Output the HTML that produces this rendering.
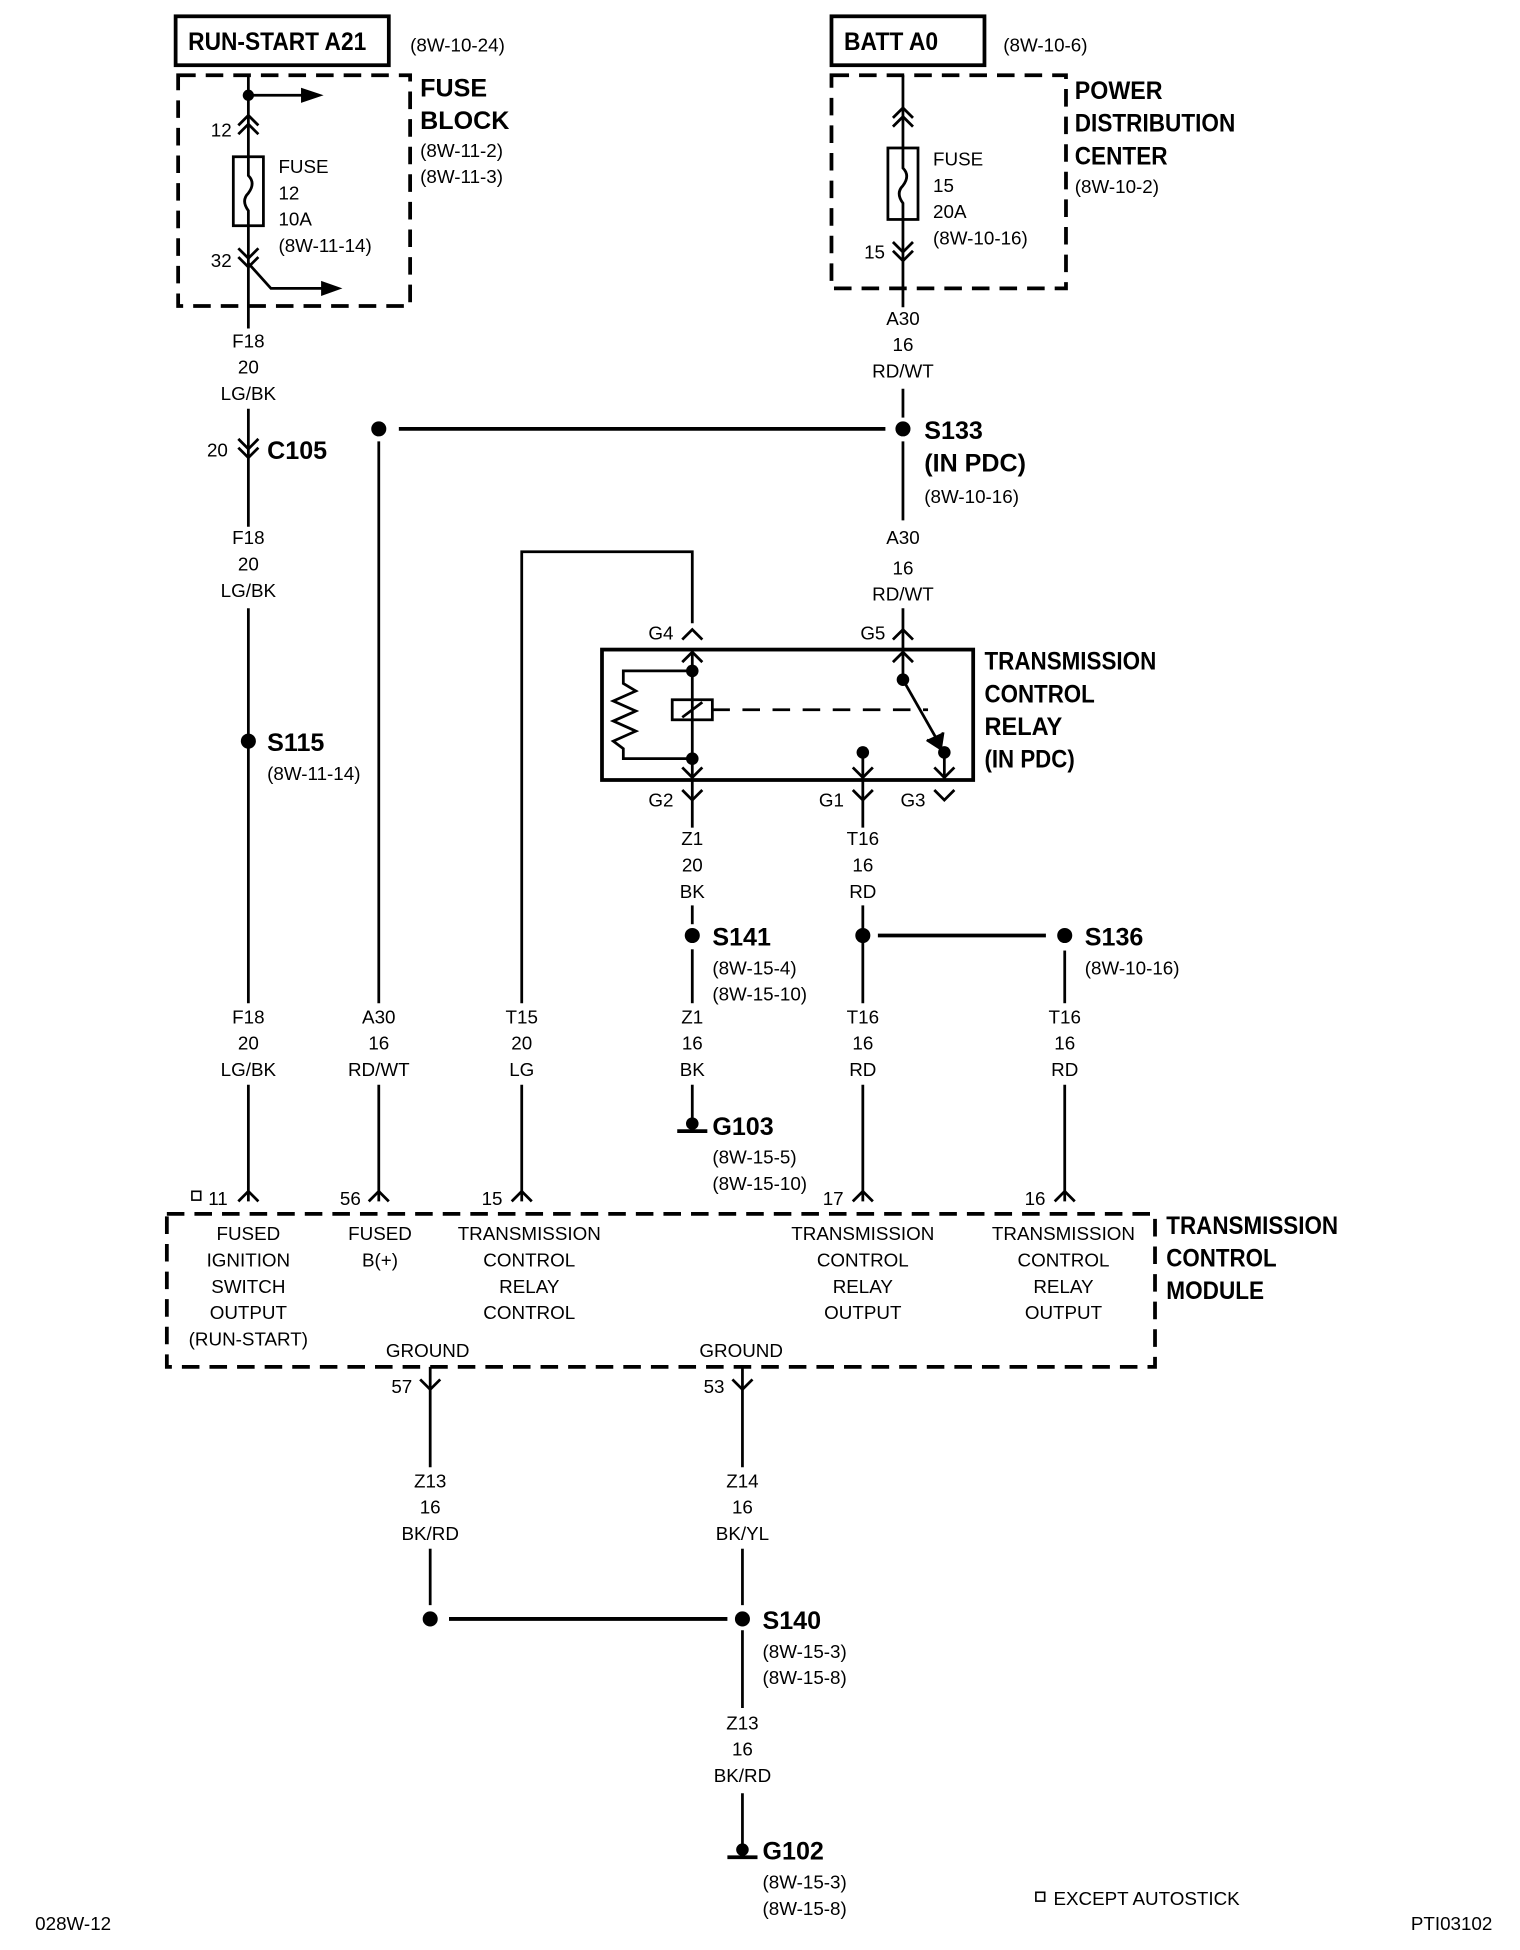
<!DOCTYPE html>
<html><head><meta charset="utf-8"><style>
html,body{margin:0;padding:0;background:#fff;}
svg{display:block;}
text{font-family:"Liberation Sans",sans-serif;fill:#000;}
.s{font-size:15px;}
.b{font-size:20px;font-weight:bold;}
.c{text-anchor:middle;}
</style></head><body>
<svg width="1520" height="1950" viewBox="0 0 1212 1555" xmlns="http://www.w3.org/2000/svg">
<g stroke="#000" stroke-width="2.2" fill="none">
<!-- top boxes -->
<rect x="140" y="13" width="170" height="39" stroke-width="3"/>
<rect x="663" y="13" width="122" height="39" stroke-width="3"/>
<rect x="142" y="60" width="185" height="184" stroke-width="3" stroke-dasharray="14,8"/>
<rect x="663" y="60" width="187" height="170" stroke-width="3" stroke-dasharray="14,8"/>
<rect x="133" y="968" width="788" height="122" stroke-width="3" stroke-dasharray="14,8"/>
<rect x="480" y="518" width="296" height="104" stroke-width="3"/>
<!-- fuse block left -->
<line x1="198" y1="60" x2="198" y2="125"/>
<line x1="198" y1="76" x2="245" y2="76"/>
<rect x="186" y="125" width="24" height="55"/>
<path d="M198 125 V140 q6 6 0 14 q-6 6 0 14 V180"/>
<line x1="198" y1="180" x2="198" y2="262"/>
<polyline points="190,100 198,92 206,100"/><polyline points="190,107 198,99 206,107"/>
<polyline points="190,198 198,206 206,198"/><polyline points="190,205 198,213 206,205"/>
<polyline points="198,210 216,230 258,230"/>
<!-- PDC -->
<line x1="720" y1="60" x2="720" y2="118"/>
<rect x="708" y="118" width="24" height="57"/>
<path d="M720 118 V134 q6 6 0 14 q-6 6 0 14 V175"/>
<line x1="720" y1="175" x2="720" y2="245"/>
<polyline points="712,94 720,86 728,94"/><polyline points="712,101 720,93 728,101"/>
<polyline points="712,193 720,201 728,193"/><polyline points="712,200 720,208 728,200"/>
<!-- x=198 wire -->
<line x1="198" y1="326" x2="198" y2="420"/>
<polyline points="190,350 198,358 206,350"/><polyline points="190,357 198,365 206,357"/>
<line x1="198" y1="485" x2="198" y2="800"/>
<line x1="198" y1="865" x2="198" y2="958"/>
<polyline points="190,958 198,950 206,958"/>
<!-- A30 x=302 -->
<line x1="318" y1="342" x2="706" y2="342" stroke-width="3"/>
<line x1="302" y1="352" x2="302" y2="800"/>
<line x1="302" y1="865" x2="302" y2="958"/>
<polyline points="294,958 302,950 310,958"/>
<!-- T15 -->
<polyline points="416,800 416,440 552,440 552,497"/>
<line x1="416" y1="865" x2="416" y2="958"/>
<polyline points="408,958 416,950 424,958"/>
<!-- x=720 -->
<line x1="720" y1="310" x2="720" y2="333"/>
<line x1="720" y1="352" x2="720" y2="415"/>
<line x1="720" y1="485" x2="720" y2="542"/>
<polyline points="712,510 720,502 728,510"/>
<polyline points="712,528 720,520 728,528"/>
<polyline points="544,510 552,502 560,510"/>
<polyline points="544,528 552,520 560,528"/>
<!-- relay internals -->
<line x1="552" y1="520" x2="552" y2="636"/>
<rect x="536" y="558" width="32" height="16"/>
<line x1="544" y1="572" x2="560" y2="560"/>
<polyline points="552,535 497,535 497,545 507,551 489,559 507,567 489,575 507,583 489,591 497,597 497,605 552,605"/>
<line x1="568" y1="566" x2="740" y2="566" stroke-dasharray="14,10"/>
<line x1="720" y1="542" x2="749" y2="593"/>
<polyline points="739,590 750,597 752,584" fill="#000"/>
<line x1="753" y1="600" x2="753" y2="622"/>
<line x1="688" y1="600" x2="688" y2="660"/>
<polyline points="544,612 552,620 560,612"/><polyline points="680,612 688,620 696,612"/><polyline points="745,612 753,620 761,612"/>
<polyline points="544,630 552,638 560,630"/><polyline points="680,630 688,638 696,630"/><polyline points="745,630 753,638 761,630"/>
<line x1="552" y1="636" x2="552" y2="660"/>
<line x1="552" y1="722" x2="552" y2="737"/>
<line x1="552" y1="757" x2="552" y2="800"/>
<line x1="552" y1="865" x2="552" y2="900"/>
<line x1="540" y1="902" x2="564" y2="902" stroke-width="3"/>
<line x1="688" y1="722" x2="688" y2="800"/>
<line x1="688" y1="865" x2="688" y2="958"/>
<polyline points="680,958 688,950 696,958"/>
<line x1="700" y1="746" x2="834" y2="746" stroke-width="3"/>
<line x1="849" y1="758" x2="849" y2="800"/>
<line x1="849" y1="865" x2="849" y2="958"/>
<polyline points="841,958 849,950 857,958"/>
<!-- ground -->
<polyline points="335,1100 343,1108 351,1100"/>
<line x1="343" y1="1090" x2="343" y2="1170"/>
<line x1="343" y1="1235" x2="343" y2="1280"/>
<polyline points="584,1100 592,1108 600,1100"/>
<line x1="592" y1="1090" x2="592" y2="1170"/>
<line x1="592" y1="1235" x2="592" y2="1280"/>
<line x1="358" y1="1291" x2="580" y2="1291" stroke-width="3"/>
<line x1="592" y1="1300" x2="592" y2="1362"/>
<line x1="592" y1="1430" x2="592" y2="1478"/>
<line x1="580" y1="1481" x2="604" y2="1481" stroke-width="3"/>
<rect x="153" y="950" width="7" height="7" stroke-width="1.3"/>
<rect x="826" y="1509" width="7" height="7" stroke-width="1.3"/>
</g>
<g fill="#000">
<polygon points="240,70 258,76 240,82"/>
<polygon points="256,224 273,230 256,236"/>
<circle cx="198" cy="76" r="4.5"/>
<circle cx="302" cy="342" r="6"/><circle cx="720" cy="342" r="6"/>
<circle cx="198" cy="591" r="6"/>
<circle cx="552" cy="535" r="5"/><circle cx="552" cy="605" r="5"/>
<circle cx="720" cy="542" r="5"/><circle cx="688" cy="600" r="5"/><circle cx="753" cy="600" r="5"/>
<circle cx="552" cy="746" r="6"/><circle cx="688" cy="746" r="6"/><circle cx="849" cy="746" r="6"/>
<circle cx="552" cy="896" r="5"/>
<circle cx="343" cy="1291" r="6"/><circle cx="592" cy="1291" r="6"/>
<circle cx="592" cy="1475" r="5"/>
</g>
<text class="b" x="150" y="40" textLength="142" lengthAdjust="spacingAndGlyphs">RUN-START A21</text>
<text class="s" x="327" y="41">(8W-10-24)</text>
<text class="b" x="673" y="40" textLength="75" lengthAdjust="spacingAndGlyphs">BATT A0</text>
<text class="s" x="800" y="41">(8W-10-6)</text>
<text class="b" x="335" y="77">FUSE</text><text class="b" x="335" y="103">BLOCK</text>
<text class="s" x="335" y="125">(8W-11-2)</text><text class="s" x="335" y="146">(8W-11-3)</text>
<text class="s" x="168" y="109">12</text><text class="s" x="168" y="213">32</text>
<text class="s" x="222" y="138">FUSE</text><text class="s" x="222" y="159">12</text><text class="s" x="222" y="180">10A</text><text class="s" x="222" y="201">(8W-11-14)</text>
<text class="b" x="857" y="79" textLength="70" lengthAdjust="spacingAndGlyphs">POWER</text>
<text class="b" x="857" y="105" textLength="128" lengthAdjust="spacingAndGlyphs">DISTRIBUTION</text>
<text class="b" x="857" y="131" textLength="74" lengthAdjust="spacingAndGlyphs">CENTER</text>
<text class="s" x="857" y="154">(8W-10-2)</text>
<text class="s" x="744" y="132">FUSE</text><text class="s" x="744" y="153">15</text><text class="s" x="744" y="174">20A</text><text class="s" x="744" y="195">(8W-10-16)</text>
<text class="s" x="689" y="206">15</text>
<g class="s c">
<text class="s c" x="198" y="277">F18</text><text class="s c" x="198" y="298">20</text><text class="s c" x="198" y="319">LG/BK</text>
<text class="s c" x="198" y="434">F18</text><text class="s c" x="198" y="455">20</text><text class="s c" x="198" y="476">LG/BK</text>
<text class="s c" x="198" y="816">F18</text><text class="s c" x="198" y="837">20</text><text class="s c" x="198" y="858">LG/BK</text>
<text class="s c" x="302" y="816">A30</text><text class="s c" x="302" y="837">16</text><text class="s c" x="302" y="858">RD/WT</text>
<text class="s c" x="416" y="816">T15</text><text class="s c" x="416" y="837">20</text><text class="s c" x="416" y="858">LG</text>
<text class="s c" x="552" y="816">Z1</text><text class="s c" x="552" y="837">16</text><text class="s c" x="552" y="858">BK</text>
<text class="s c" x="688" y="816">T16</text><text class="s c" x="688" y="837">16</text><text class="s c" x="688" y="858">RD</text>
<text class="s c" x="849" y="816">T16</text><text class="s c" x="849" y="837">16</text><text class="s c" x="849" y="858">RD</text>
<text class="s c" x="720" y="259">A30</text><text class="s c" x="720" y="280">16</text><text class="s c" x="720" y="301">RD/WT</text>
<text class="s c" x="720" y="434">A30</text><text class="s c" x="720" y="458">16</text><text class="s c" x="720" y="479">RD/WT</text>
<text class="s c" x="552" y="674">Z1</text><text class="s c" x="552" y="695">20</text><text class="s c" x="552" y="716">BK</text>
<text class="s c" x="688" y="674">T16</text><text class="s c" x="688" y="695">16</text><text class="s c" x="688" y="716">RD</text>
<text class="s c" x="343" y="1186">Z13</text><text class="s c" x="343" y="1207">16</text><text class="s c" x="343" y="1228">BK/RD</text>
<text class="s c" x="592" y="1186">Z14</text><text class="s c" x="592" y="1207">16</text><text class="s c" x="592" y="1228">BK/YL</text>
<text class="s c" x="592" y="1379">Z13</text><text class="s c" x="592" y="1400">16</text><text class="s c" x="592" y="1421">BK/RD</text>
</g>
<text class="s" x="165" y="364">20</text>
<text class="b" x="213" y="366">C105</text>
<text class="b" x="737" y="350">S133</text><text class="b" x="737" y="376">(IN PDC)</text><text class="s" x="737" y="401">(8W-10-16)</text>
<text class="b" x="213" y="599">S115</text><text class="s" x="213" y="622">(8W-11-14)</text>
<text class="s" x="517" y="510">G4</text><text class="s" x="686" y="510">G5</text>
<text class="s" x="517" y="643">G2</text><text class="s" x="653" y="643">G1</text><text class="s" x="718" y="643">G3</text>
<text class="b" x="785" y="534" textLength="137" lengthAdjust="spacingAndGlyphs">TRANSMISSION</text>
<text class="b" x="785" y="560" textLength="88" lengthAdjust="spacingAndGlyphs">CONTROL</text>
<text class="b" x="785" y="586" textLength="62" lengthAdjust="spacingAndGlyphs">RELAY</text>
<text class="b" x="785" y="612" textLength="72" lengthAdjust="spacingAndGlyphs">(IN PDC)</text>
<text class="b" x="568" y="754">S141</text><text class="s" x="568" y="777">(8W-15-4)</text><text class="s" x="568" y="798">(8W-15-10)</text>
<text class="b" x="865" y="754">S136</text><text class="s" x="865" y="777">(8W-10-16)</text>
<text class="b" x="568" y="905">G103</text><text class="s" x="568" y="928">(8W-15-5)</text><text class="s" x="568" y="949">(8W-15-10)</text>
<text class="s" x="166" y="961">11</text><text class="s" x="271" y="961">56</text><text class="s" x="384" y="961">15</text><text class="s" x="656" y="961">17</text><text class="s" x="817" y="961">16</text>
<g>
<text class="s c" x="198" y="989">FUSED</text><text class="s c" x="198" y="1010">IGNITION</text><text class="s c" x="198" y="1031">SWITCH</text><text class="s c" x="198" y="1052">OUTPUT</text><text class="s c" x="198" y="1073">(RUN-START)</text>
<text class="s c" x="303" y="989">FUSED</text><text class="s c" x="303" y="1010">B(+)</text>
<text class="s c" x="422" y="989">TRANSMISSION</text><text class="s c" x="422" y="1010">CONTROL</text><text class="s c" x="422" y="1031">RELAY</text><text class="s c" x="422" y="1052">CONTROL</text>
<text class="s c" x="688" y="989">TRANSMISSION</text><text class="s c" x="688" y="1010">CONTROL</text><text class="s c" x="688" y="1031">RELAY</text><text class="s c" x="688" y="1052">OUTPUT</text>
<text class="s c" x="848" y="989">TRANSMISSION</text><text class="s c" x="848" y="1010">CONTROL</text><text class="s c" x="848" y="1031">RELAY</text><text class="s c" x="848" y="1052">OUTPUT</text>
<text class="s c" x="341" y="1082">GROUND</text><text class="s c" x="591" y="1082">GROUND</text>
</g>
<text class="b" x="930" y="984" textLength="137" lengthAdjust="spacingAndGlyphs">TRANSMISSION</text>
<text class="b" x="930" y="1010" textLength="88" lengthAdjust="spacingAndGlyphs">CONTROL</text>
<text class="b" x="930" y="1036" textLength="78" lengthAdjust="spacingAndGlyphs">MODULE</text>
<text class="s" x="312" y="1111">57</text><text class="s" x="561" y="1111">53</text>
<text class="b" x="608" y="1299">S140</text><text class="s" x="608" y="1322">(8W-15-3)</text><text class="s" x="608" y="1343">(8W-15-8)</text>
<text class="b" x="608" y="1483">G102</text><text class="s" x="608" y="1506">(8W-15-3)</text><text class="s" x="608" y="1527">(8W-15-8)</text>
<text class="s" x="840" y="1519">EXCEPT AUTOSTICK</text>
<text class="s" x="28" y="1539">028W-12</text>
<text class="s" x="1125" y="1539">PTI03102</text>
</svg>
</body></html>
